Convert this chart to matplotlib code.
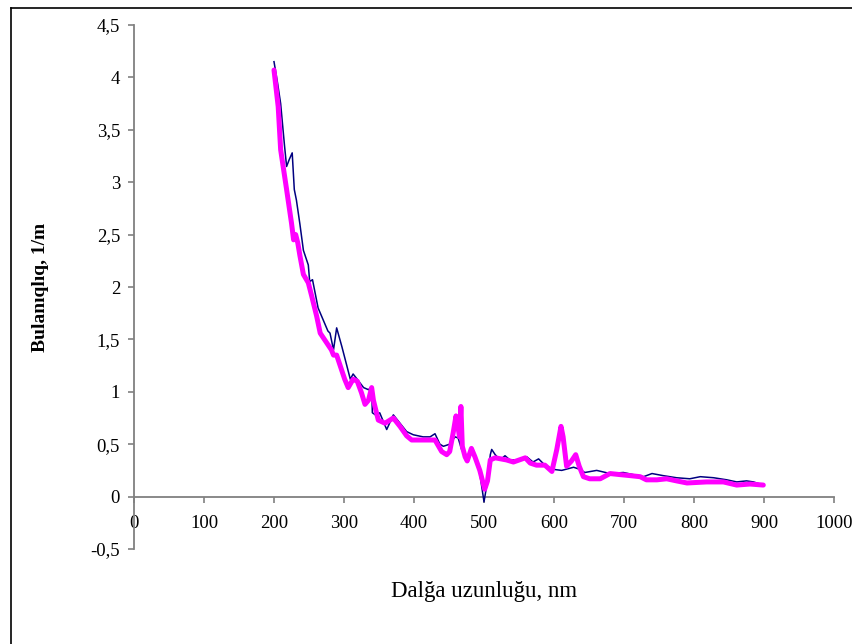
import matplotlib
matplotlib.use("Agg")
import matplotlib.pyplot as plt
from matplotlib.lines import Line2D
from matplotlib.ticker import FuncFormatter

# Series 1 (navy, thin)
wl_blue = [200, 205, 209.5, 211, 215, 218, 222, 226, 229, 232, 237, 242, 249, 251, 255,
           263, 270, 277, 280, 285, 289.5, 297, 304, 309, 313, 320, 328, 335, 339.5,
           340.5, 347, 351, 356, 361, 370.5, 380, 389.5, 399, 413, 423, 430, 437, 442,
           451, 458.6, 463, 468, 476, 482, 487, 494, 500, 505, 509, 511, 516, 523, 530,
           537, 551, 561, 570, 578, 587, 599, 611, 628, 637, 644, 661, 680, 699, 713,
           728, 740, 756, 775, 794, 809, 828, 847, 861, 875, 885, 899]
val_blue = [4.15, 3.95, 3.75, 3.64, 3.35, 3.15, 3.22, 3.28, 2.93, 2.83, 2.60, 2.35, 2.21,
            2.05, 2.07, 1.80, 1.69, 1.58, 1.56, 1.40, 1.61, 1.43, 1.25, 1.12, 1.17, 1.11,
            1.04, 1.02, 1.05, 0.80, 0.77, 0.80, 0.72, 0.64, 0.78, 0.70, 0.62, 0.59, 0.57,
            0.57, 0.60, 0.50, 0.48, 0.50, 0.57, 0.56, 0.45, 0.36, 0.44, 0.38, 0.22, -0.05,
            0.15, 0.40, 0.45, 0.40, 0.35, 0.39, 0.35, 0.35, 0.38, 0.33, 0.36, 0.30, 0.26,
            0.25, 0.28, 0.26, 0.23, 0.25, 0.22, 0.23, 0.21, 0.19, 0.22, 0.20, 0.18, 0.17,
            0.19, 0.18, 0.16, 0.14, 0.15, 0.14, 0.11]

# Series 2 (magenta, thick)
wl_pink = [200, 206, 209.5, 218, 225, 228, 231, 234, 237, 242, 249, 254, 261, 266, 275,
           282, 285, 289.5, 294, 301, 306, 313, 319, 325, 330, 335, 339.5, 342, 349,
           358.6, 370.5, 380, 389.5, 396.7, 423, 430, 439.5, 446.7, 451, 456, 460, 462,
           465, 467, 469, 473, 476, 482, 487, 494, 501, 505, 509, 516, 532, 542, 559,
           566, 575, 587, 597, 604, 610, 613, 618, 625, 631, 636, 642, 651, 666, 680,
           694, 709, 723, 732, 747, 761, 775, 790, 818, 842, 861, 880, 899]
val_pink = [4.07, 3.72, 3.31, 2.93, 2.61, 2.45, 2.50, 2.42, 2.30, 2.12, 2.04, 1.91, 1.72,
            1.56, 1.47, 1.40, 1.35, 1.35, 1.26, 1.12, 1.04, 1.12, 1.10, 0.99, 0.88, 0.92,
            1.04, 0.92, 0.73, 0.70, 0.75, 0.67, 0.58, 0.54, 0.54, 0.54, 0.43, 0.40, 0.43,
            0.61, 0.77, 0.70, 0.57, 0.86, 0.48, 0.38, 0.34, 0.46, 0.38, 0.25, 0.07, 0.15,
            0.35, 0.37, 0.35, 0.33, 0.37, 0.32, 0.30, 0.30, 0.24, 0.45, 0.67, 0.57, 0.29,
            0.34, 0.40, 0.29, 0.19, 0.17, 0.17, 0.22, 0.21, 0.20, 0.19, 0.16, 0.16, 0.17,
            0.15, 0.13, 0.14, 0.14, 0.11, 0.12, 0.11]

x_ticks = [0, 100, 200, 300, 400, 500, 600, 700, 800, 900, 1000]
y_ticks = [-0.5, 0, 0.5, 1, 1.5, 2, 2.5, 3, 3.5, 4, 4.5]
x_label = "Dalğa uzunluğu, nm"
y_label = "Bulanıqlıq, 1/m"

plt.rcParams['font.family'] = ['Liberation Serif', 'DejaVu Serif']

W, H = 852, 644
fig = plt.figure(figsize=(W / 100, H / 100), dpi=100)
ax = fig.add_axes([134 / W, 1 - 549 / H, 700 / W, 524 / H])

ax.plot(wl_blue, val_blue, color='#000080', lw=1.1, zorder=3)
ax.plot(wl_pink, val_pink, color='#FF00FF', lw=3.6, zorder=4,
        solid_joinstyle='round', solid_capstyle='round')

ax.set_xlim(0, 1000)
ax.set_ylim(-0.5, 4.5)
ax.set_xticks(x_ticks)
ax.set_yticks(y_ticks)

def comma(v, pos):
    return ('%g' % v).replace('.', ',')
ax.yaxis.set_major_formatter(FuncFormatter(comma))
ax.xaxis.set_major_formatter(FuncFormatter(lambda v, p: '%d' % v))

for s in ['top', 'right']:
    ax.spines[s].set_visible(False)
ax.spines['bottom'].set_position(('data', 0))
ax.spines['bottom'].set_color('#808080')
ax.spines['left'].set_color('#808080')
ax.spines['bottom'].set_linewidth(1.3)
ax.spines['left'].set_linewidth(1.3)

ax.tick_params(axis='both', direction='out', length=4, width=1.2, color='#808080',
               labelsize=13.5, labelcolor='black')
ax.tick_params(axis='x', pad=9)
ax.tick_params(axis='y', pad=6)

ax.set_ylabel(y_label, fontsize=14, fontweight='bold')
ax.yaxis.set_label_coords(-0.122, 0.5)
fig.text(484 / W, 1 - 592 / H, x_label, fontsize=16.5, ha='center', va='center')

# outer frame (left and top edges visible)
fx = 10.5 / W
fy = 1 - 7.5 / H
fig.add_artist(Line2D([fx, fx], [0, fy], transform=fig.transFigure, color='black', lw=1.2))
fig.add_artist(Line2D([fx, 1], [fy, fy], transform=fig.transFigure, color='black', lw=1.2))

fig.savefig('out.png', dpi=100)
